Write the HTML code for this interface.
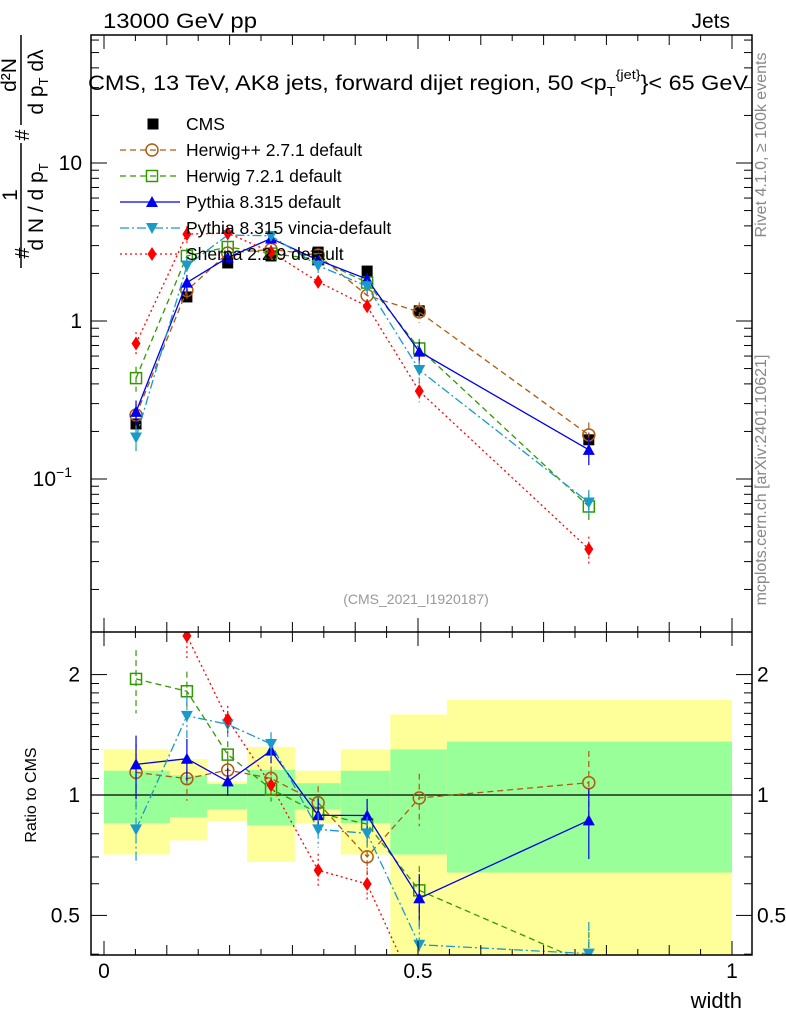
<!DOCTYPE html>
<html><head><meta charset="utf-8">
<style>
html,body{margin:0;background:#fff;overflow:hidden;width:786px;height:1024px;}
svg{display:block;font-family:"Liberation Sans",sans-serif;}
</style></head>
<body>
<svg id="c" width="786" height="1024" viewBox="0 0 786 1024">
<defs>
<clipPath id="cm"><rect x="91" y="35" width="661" height="597"/></clipPath>
<clipPath id="cr"><rect x="91" y="632" width="661" height="323"/></clipPath>
</defs>
<g id="bands" clip-path="url(#cr)"></g>
<g id="main" clip-path="url(#cm)"></g>
<g id="ratio" clip-path="url(#cr)"></g>
<g id="axes"></g>
<text x="103" y="28" font-size="21" textLength="154" lengthAdjust="spacingAndGlyphs">13000 GeV pp</text>
<text x="730" y="28" font-size="21" text-anchor="end">Jets</text>
<text x="88" y="90" font-size="21" textLength="660" lengthAdjust="spacingAndGlyphs">CMS, 13 TeV, AK8 jets, forward dijet region, 50 &lt;p<tspan font-size="13" dy="6">T</tspan><tspan font-size="13" dy="-17">{jet}</tspan><tspan dy="11">}&lt; 65 GeV</tspan></text>
<text x="416" y="604" font-size="14" fill="#999" text-anchor="middle">(CMS_2021_I1920187)</text>
<text transform="translate(766,145) rotate(-90)" font-size="16" fill="#888" text-anchor="middle">Rivet 4.1.0, ≥ 100k events</text>
<text transform="translate(766,480) rotate(-90)" font-size="16" fill="#888" text-anchor="middle">mcplots.cern.ch [arXiv:2401.10621]</text>
<g>
<text transform="translate(29,253) rotate(-90)" text-anchor="middle" font-size="20">#</text>
<line x1="21" x2="21" y1="143" y2="268" stroke="#000" stroke-width="1.5"/>
<text transform="translate(17,195) rotate(-90)" text-anchor="middle" font-size="21">1</text>
<text transform="translate(43,207) rotate(-90)" text-anchor="middle" font-size="21">d N / d p<tspan font-size="13" dy="5">T</tspan></text>
<text transform="translate(29,135) rotate(-90)" text-anchor="middle" font-size="20">#</text>
<line x1="21" x2="21" y1="35" y2="125" stroke="#000" stroke-width="1.5"/>
<text transform="translate(16,75) rotate(-90)" text-anchor="middle" font-size="21">d²N</text>
<text transform="translate(43,82) rotate(-90)" text-anchor="middle" font-size="21">d p<tspan font-size="13" dy="5">T</tspan><tspan dy="-5"> dλ</tspan></text>
</g>
<text transform="translate(36,795) rotate(-90)" font-size="16" text-anchor="middle">Ratio to CMS</text>
<text x="742" y="1008" font-size="22" text-anchor="end">width</text>
<g id="legend"></g>
</svg>
<script>
const xs=[0.051,0.132,0.197,0.266,0.341,0.419,0.502,0.772];
const edges=[0,0.105,0.164,0.228,0.304,0.377,0.456,0.546,1.0];
const cms=[0.223,1.42,2.33,2.58,2.73,2.07,1.16,0.177];
const cmsErr=[0.02,0.08,0.1,0.1,0.1,0.1,0.1,0.02];
const hpp=[0.254,1.56,2.69,2.84,2.61,1.45,1.14,0.19];
const h7=[0.435,2.58,2.94,2.67,2.46,1.75,0.67,0.067];
const py=[0.266,1.75,2.52,3.33,2.43,1.84,0.64,0.153];
const vin=[0.183,2.24,3.5,3.46,2.24,1.66,0.49,0.071];
const sh=[0.72,3.55,3.6,2.73,1.77,1.24,0.36,0.036];
const relErr=[0.18,0.12,0.08,0.07,0.1,0.1,0.15,0.2];
const yelHi=[1.30,1.23,1.08,1.32,1.15,1.30,1.59,1.73];
const yelLo=[0.71,0.77,0.86,0.68,0.85,0.71,0.3,0.3];
const grnHi=[1.15,1.12,1.065,1.155,1.07,1.15,1.30,1.36];
const grnLo=[0.85,0.88,0.92,0.84,0.92,0.85,0.71,0.64];
const NS="http://www.w3.org/2000/svg";
const X=v=>104+628*v;
const Y=v=>321-158*Math.log10(v);
const R=v=>795-400*Math.log10(v);
function el(p,t,a){const e=document.createElementNS(NS,t);for(const k in a)e.setAttribute(k,a[k]);p.appendChild(e);return e;}
const bands=document.getElementById('bands'),main=document.getElementById('main'),ratio=document.getElementById('ratio'),axes=document.getElementById('axes'),leg=document.getElementById('legend');
for(let i=0;i<8;i++){
 let r=el(bands,'rect',{x:X(edges[i]),y:R(yelHi[i]),width:X(edges[i+1])-X(edges[i]),height:R(yelLo[i])-R(yelHi[i]),fill:'#ffff99'});
 
 
 let g=el(bands,'rect',{x:X(edges[i]),y:R(grnHi[i]),width:X(edges[i+1])-X(edges[i]),height:R(grnLo[i])-R(grnHi[i]),fill:'#99ff99'});
 
 
}
el(ratio,'line',{x1:91,x2:752,y1:795,y2:795,stroke:'#000','stroke-width':1.2});
function marker(p,type,x,y,c){
 const s=5.5;let m;
 if(type=='sq')m=el(p,'rect',{x:x-s,y:y-s,width:2*s,height:2*s,fill:'#000'});
 else if(type=='osq')m=el(p,'rect',{x:x-s,y:y-s,width:2*s,height:2*s,fill:'none',stroke:c,'stroke-width':1.5});
 else if(type=='oc')m=el(p,'circle',{cx:x,cy:y,r:s+0.5,fill:'none',stroke:c,'stroke-width':1.5});
 else if(type=='tu')m=el(p,'path',{d:`M${x},${y-6}L${x+6},${y+5}L${x-6},${y+5}Z`,fill:c});
 else if(type=='td')m=el(p,'path',{d:`M${x},${y+6}L${x+6},${y-5}L${x-6},${y-5}Z`,fill:c});
 else m=el(p,'path',{d:`M${x},${y-7}L${x+4.5},${y}L${x},${y+7}L${x-4.5},${y}Z`,fill:c});
 return m;
}
const series=[
 {n:'herwig-pp',v:hpp,c:'#b05a10',d:'6,4',m:'oc',lab:'Herwig++ 2.7.1 default'},
 {n:'herwig-7',v:h7,c:'#339900',d:'6,4',m:'osq',lab:'Herwig 7.2.1 default'},
 {n:'pythia',v:py,c:'#0000ee',d:'',m:'tu',lab:'Pythia 8.315 default'},
 {n:'pythia-vincia',v:vin,c:'#1a9ac8',d:'9,3,2,3',m:'td',lab:'Pythia 8.315 vincia-default'},
 {n:'sherpa',v:sh,c:'#ff0000',d:'2,3',m:'dm',lab:'Sherpa 2.2.9 default'}];
function drawSeries(p,vals,fy,s,name){
 const pts=vals.map((v,i)=>X(xs[i])+','+fy(v)).join(' ');
 const l=el(p,'polyline',{points:pts,fill:'none',stroke:s.c,'stroke-width':1.3,'stroke-dasharray':s.d});
 
 
 vals.forEach((v,i)=>{
  const x=X(xs[i]);
  el(p,'line',{x1:x,x2:x,y1:fy(v*(1+relErr[i])),y2:fy(v*(1-relErr[i])),stroke:s.c,'stroke-width':1.2,'stroke-dasharray':s.d});
  const m=marker(p,s.m,x,fy(v),s.c);
  
  
 });
}
cms.forEach((v,i)=>{
 const x=X(xs[i]);
 el(main,'line',{x1:x,x2:x,y1:Y(v+cmsErr[i]),y2:Y(v-cmsErr[i]),stroke:'#000','stroke-width':1.2});
 const m=marker(main,'sq',x,Y(v),'#000');
 
 
});
series.forEach(s=>{
 drawSeries(main,s.v,Y,s,s.n);
 drawSeries(ratio,s.v.map((v,i)=>v/cms[i]),R,s,s.n+'-ratio');
});
const lm=marker(leg,'sq',153,124,'#000');


el(leg,'text',{x:186,y:130,'font-size':17.5}).textContent='CMS';
series.forEach((s,i)=>{
 const y=150+i*26;
 const g=el(leg,'g',{});
 
 
 el(g,'line',{x1:120,x2:180,y1:y,y2:y,stroke:s.c,'stroke-width':1.3,'stroke-dasharray':s.d});
 marker(g,s.m,152,y,s.c);
 el(g,'text',{x:186,y:y+6,'font-size':17.5}).textContent=s.lab;
});
el(axes,'rect',{x:91,y:35,width:661,height:920,fill:'none',stroke:'#000','stroke-width':1.5});
el(axes,'line',{x1:91,x2:752,y1:632,y2:632,stroke:'#000','stroke-width':1.5});
for(let k=0;k<=20;k++){
 const v=k*0.05,x=X(v),len=(k%10==0)?14:(k%2==0?10:6);
 [[35,1],[632,1],[632,-1],[955,-1]].forEach(([y,d])=>el(axes,'line',{x1:x,x2:x,y1:y,y2:y+d*len,stroke:'#000'}));
}
[['0',0],['0.5',0.5],['1',1]].forEach(([t,v])=>{const e=el(axes,'text',{x:X(v),y:978,'font-size':21,'text-anchor':'middle'});e.textContent=t;});
for(let d=-2;d<=1;d++)for(let k=1;k<10;k++){
 const v=k*Math.pow(10,d),y=Y(v);if(y<35||y>632)continue;
 const len=k==1?16:8;
 el(axes,'line',{x1:91,x2:91+len,y1:y,y2:y,stroke:'#000'});
 el(axes,'line',{x1:752,x2:752-len,y1:y,y2:y,stroke:'#000'});
}
el(axes,'text',{x:82,y:170,'font-size':21,'text-anchor':'end'}).textContent='10';
el(axes,'text',{x:82,y:328,'font-size':21,'text-anchor':'end'}).textContent='1';
const t3=el(axes,'text',{x:72,y:486,'font-size':21,'text-anchor':'end'});t3.innerHTML='10<tspan font-size="14" dy="-9">−1</tspan>';
[0.4,0.5,0.6,0.7,0.8,0.9,1,2,1.1,1.2,1.3,1.4,1.5,1.6,1.7,1.8,1.9].forEach(v=>{
 const y=R(v),len=(v==0.5||v==1||v==2)?16:8;
 el(axes,'line',{x1:91,x2:91+len,y1:y,y2:y,stroke:'#000'});
 el(axes,'line',{x1:752,x2:752-len,y1:y,y2:y,stroke:'#000'});
});
[['2',2],['1',1],['0.5',0.5]].forEach(([t,v])=>{
 el(axes,'text',{x:80,y:R(v)+7,'font-size':21,'text-anchor':'end'}).textContent=t;
 el(axes,'text',{x:757,y:R(v)+7,'font-size':21}).textContent=t;
});
</script>
</body></html>
